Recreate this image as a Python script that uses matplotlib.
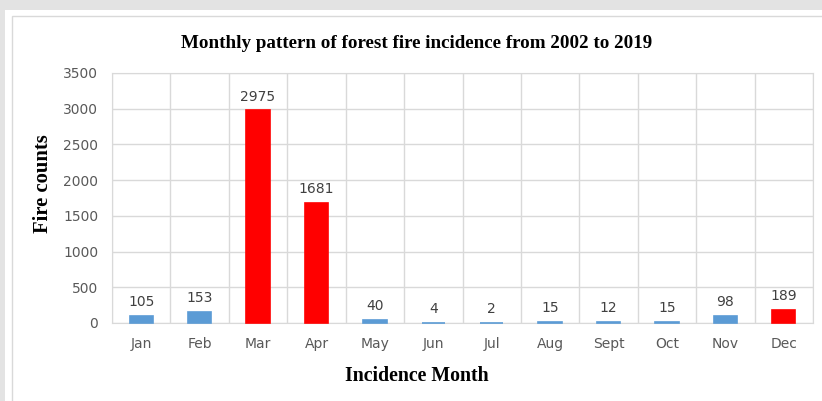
import matplotlib.pyplot as plt
from matplotlib.patches import Rectangle

# 2002-2019 forest fire counts by month
months = ['Jan', 'Feb', 'Mar', 'Apr', 'May', 'Jun', 'Jul', 'Aug', 'Sept', 'Oct', 'Nov', 'Dec']
fire_counts = [105, 153, 2975, 1681, 40, 4, 2, 15, 12, 15, 98, 189]
peak_months = ['Mar', 'Apr', 'Dec']

blue = '#5b9bd5'
red = '#ff0000'
colors = [red if m in peak_months else blue for m in months]

fig = plt.figure(figsize=(8.22, 4.01), dpi=100)
fig.patch.set_facecolor('white')

# grey page band and thin chart border like the Excel screenshot
fig.patches.append(Rectangle((0, 1 - 10 / 401), 1, 10 / 401, transform=fig.transFigure,
                             facecolor='#e3e3e3', edgecolor='none', zorder=0))
fig.patches.append(Rectangle((0, 0), 5 / 822, 1, transform=fig.transFigure,
                             facecolor='#e3e3e3', edgecolor='none', zorder=0))
fig.patches.append(Rectangle((12 / 822, -0.1), 1.1, 1 - 16 / 401 + 0.1, transform=fig.transFigure,
                             facecolor='none', edgecolor='#d9d9d9', linewidth=1, zorder=0))

ax = fig.add_axes([112 / 822, (401 - 323) / 401, (813 - 112) / 822, (323 - 73) / 401])

x = range(len(months))
bars = ax.bar(x, fire_counts, width=0.4, color=colors, edgecolor=colors, linewidth=1.2,
              zorder=3, clip_on=False)

ax.set_xlim(-0.5, len(months) - 0.5)
ax.set_ylim(0, 3500)
ax.set_yticks(range(0, 3501, 500))
ax.set_xticks(list(x))
ax.set_xticklabels(months)

# Excel style grid: horizontal lines plus category separators
ax.set_xticks([i + 0.5 for i in range(-1, len(months))], minor=True)
ax.grid(axis='y', color='#d9d9d9', linewidth=1, zorder=0)
ax.grid(axis='x', which='minor', color='#d9d9d9', linewidth=1, zorder=0)
ax.tick_params(axis='both', which='both', length=0, labelsize=10, labelcolor='#595959',
               labelfontfamily='DejaVu Sans')
ax.tick_params(axis='x', pad=10)
ax.tick_params(axis='y', pad=10)
for side in ['top', 'right', 'left', 'bottom']:
    ax.spines[side].set_color('#d9d9d9')

for b, v in zip(bars, fire_counts):
    ax.annotate(str(v), (b.get_x() + b.get_width() / 2, v), xytext=(0, 5),
                textcoords='offset points', ha='center', va='bottom',
                fontsize=10, color='#404040', family='DejaVu Sans')

fig.text(417 / 822, 1 - 43 / 401, 'Monthly pattern of forest fire incidence from 2002 to 2019',
         ha='center', va='center', fontsize=13.7, fontweight='bold', family='Liberation Serif')
fig.text(43 / 822, 1 - 184 / 401, 'Fire counts', rotation=90, ha='center', va='center',
         fontsize=14.9, fontweight='bold', family='Liberation Serif')
fig.text(417 / 822, 1 - 376 / 401, 'Incidence Month', ha='center', va='center',
         fontsize=14.3, fontweight='bold', family='Liberation Serif')

plt.savefig('out.png', dpi=100)
